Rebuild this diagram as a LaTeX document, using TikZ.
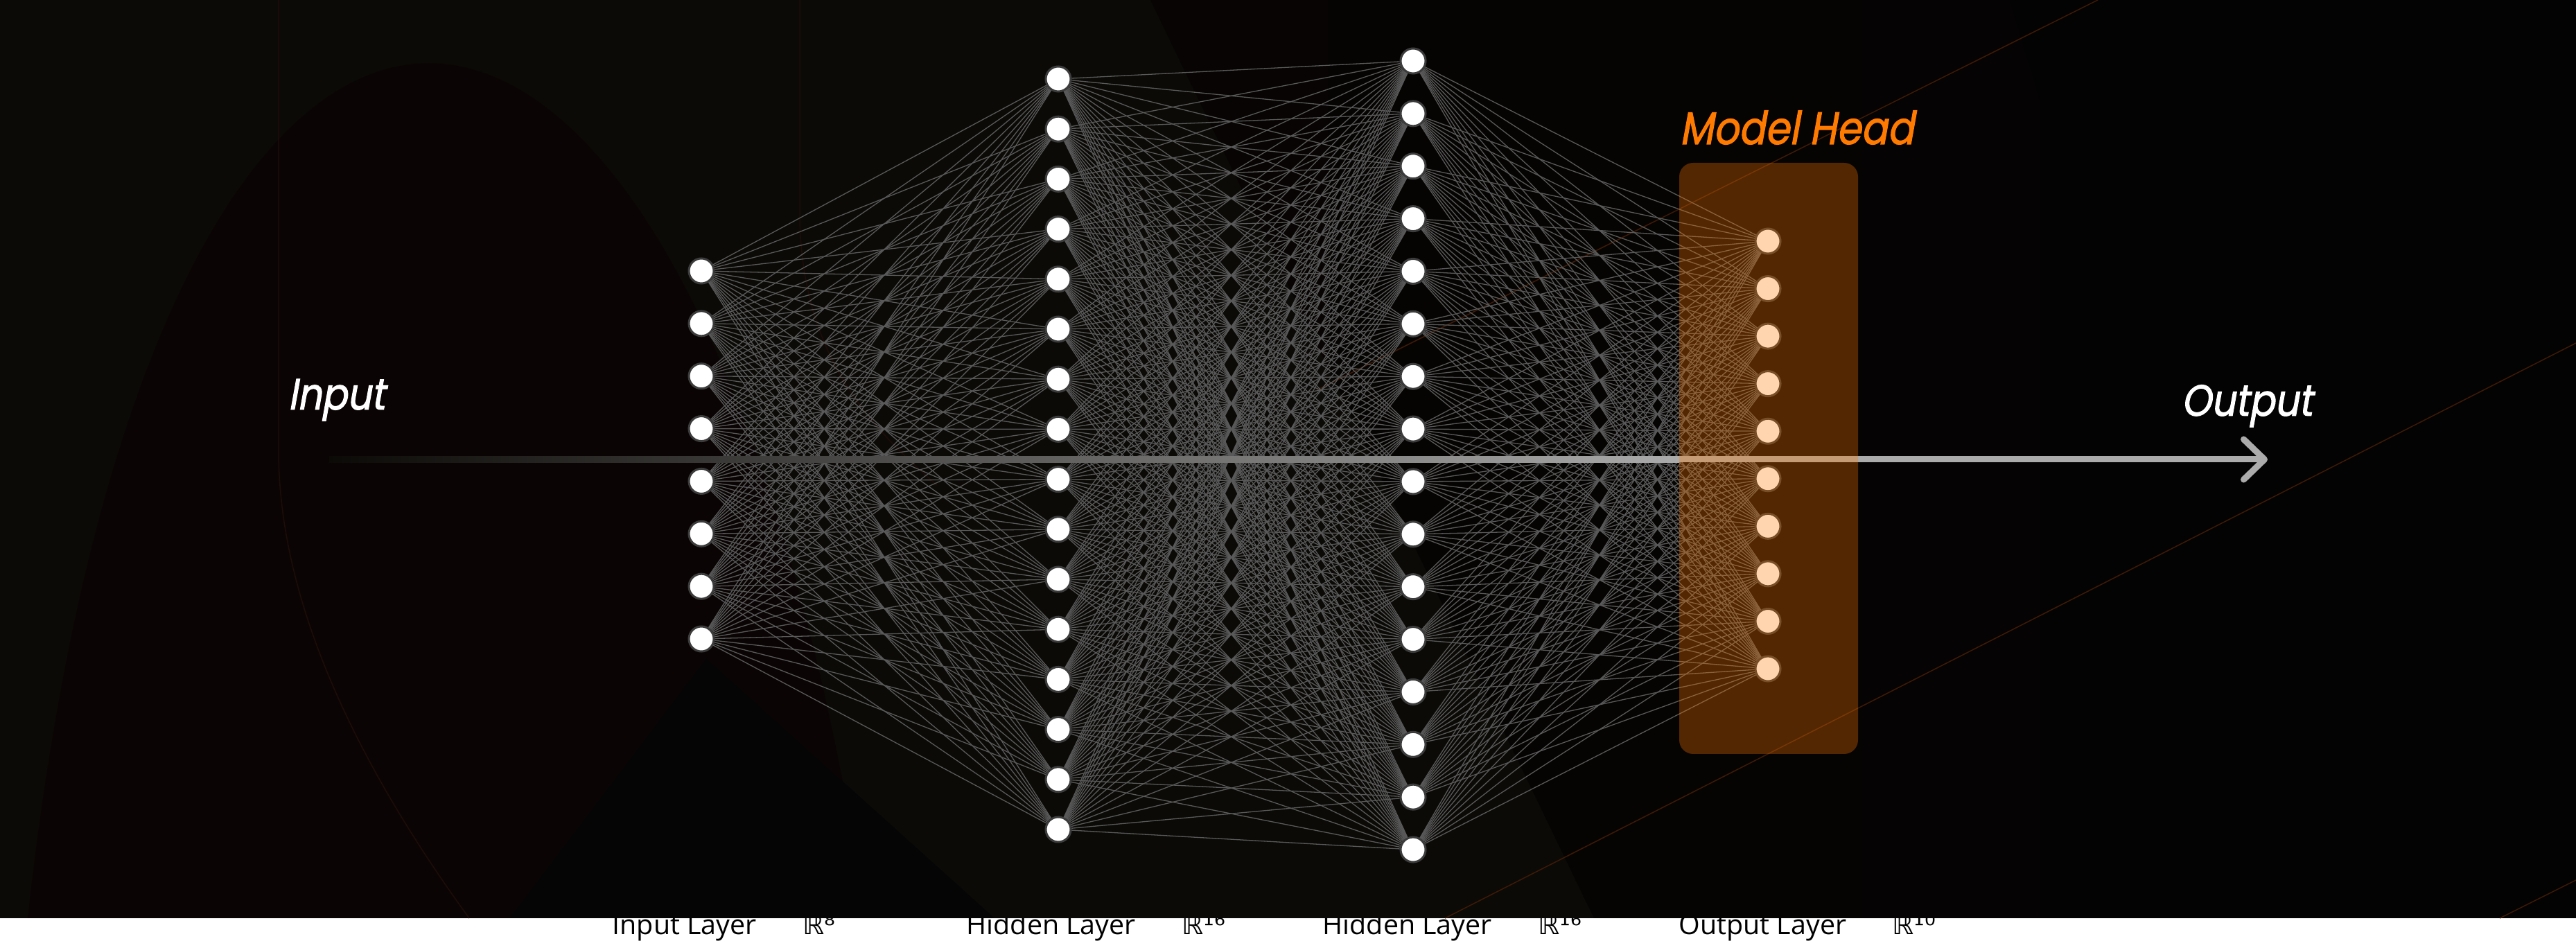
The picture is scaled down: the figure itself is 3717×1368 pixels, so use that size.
\documentclass[tikz,border=0pt]{standalone}
\usepackage{fontspec}
\setmainfont{Open Sans}
\newfontfamily\headfont[FakeSlant=0.18,FakeStretch=0.86,FakeBold=1.6]{Poppins}
\newfontfamily\dimfont{DejaVu Sans}
\usetikzlibrary{positioning,arrows.meta}

\definecolor{bgA}{HTML}{0B0A07}
\definecolor{bgB}{HTML}{070403}
\definecolor{bgC}{HTML}{030303}
\definecolor{bgArch}{HTML}{0A0504}
\definecolor{bgWedge}{HTML}{050505}
\definecolor{rimline}{HTML}{1E0C06}
\definecolor{streak}{HTML}{3E1A06}
\definecolor{edgegray}{HTML}{595959}
\definecolor{ringgray}{HTML}{3C3C3C}
\definecolor{arrowgray}{HTML}{ABABAB}
\definecolor{headorange}{HTML}{FF7800}
\definecolor{headtext}{HTML}{FF7A00}

\begin{document}
\begin{tikzpicture}[x=0.01cm, y=-0.01cm,
	neuron/.style={circle, fill=white, draw=ringgray, line width=0.03cm, minimum size=0.36cm, inner sep=0pt},
	conn/.style={edgegray, line width=0.013cm},
	lbl/.style={font=\fontsize{11.2}{13}\selectfont, text=black, inner sep=0pt},
	dimlbl/.style={font=\dimfont\fontsize{11.2}{13}\selectfont, text=black, inner sep=0pt},
	flowtxt/.style={font=\headfont\fontsize{18}{20}\selectfont, text=white, inner sep=0pt, anchor=base west},
	headbox/.style={fill=headorange, fill opacity=0.31, rounded corners=0.2cm},
	flowline/.style={arrowgray, line width=0.09cm, -{Straight Barb[round, length=0.3cm, width=0.58cm]}}
]
\useasboundingbox (0,0) rectangle (3717,1368);

% layer captions (partly hidden under the dark panel)
\node[lbl, anchor=base west] (lbl-in) at (883,1349) {Input Layer};
\node[dimlbl, base right=0.65cm of lbl-in] (dim-in) {ℝ⁸};
\node[lbl, anchor=base west] (lbl-hA) at (1394,1349) {Hidden Layer};
\node[dimlbl, base right=0.65cm of lbl-hA] (dim-hA) {ℝ¹⁶};
\node[lbl, anchor=base west] (lbl-hB) at (1908,1349) {Hidden Layer};
\node[dimlbl, base right=0.65cm of lbl-hB] (dim-hB) {ℝ¹⁶};
\node[lbl, anchor=base west] (lbl-out) at (2422,1349) {Output Layer};
\node[dimlbl, base right=0.65cm of lbl-out] (dim-out) {ℝ¹⁰};

% dark panel
\fill[bgA] (0,0) rectangle (3717,1325);
\shade[left color=bgB, right color=bgC] (1660,0) -- (3717,0) -- (3717,1325) -- (2300,1325) -- cycle;
\fill[bgC] (2900,0) -- (3717,0) -- (3717,1325) -- (3300,1325) -- cycle;
\fill[bgArch] (40,1325) .. controls (220,-320) and (1000,-320) .. (1250,1325) -- cycle;
\fill[bgWedge] (735,1325) -- (1019,950) -- (1435,1325) -- cycle;
\draw[rimline, line width=0.015cm] (402,0) -- (402,650) .. controls (402,900) and (550,1150) .. (677,1325);
\draw[rimline, line width=0.015cm] (1154,0) -- (1154,320) .. controls (1160,520) and (1260,620) .. (1352,700);
\draw[streak, line width=0.015cm] (3027,0) -- (1900,563);
\draw[streak, line width=0.015cm] (3717,495) -- (2085,1325);
\draw[streak, line width=0.015cm] (3717,1270) -- (3607,1325);

% neurons
\foreach \i in {1,...,8}
	\node[neuron] (in-\i) at (1012,{391+(\i-1)*75.86}) {};
\foreach \i in {1,...,16}
	\node[neuron] (hA-\i) at (1527,{114+(\i-1)*72.2}) {};
\foreach \i in {1,...,16}
	\node[neuron] (hB-\i) at (2039,{88+(\i-1)*75.87}) {};
\foreach \i in {1,...,10}
	\node[neuron] (out-\i) at (2551,{348+(\i-1)*68.56}) {};

% weights
\foreach \a in {1,...,8}
	\foreach \b in {1,...,16}
		\draw[conn] (in-\a) -- (hA-\b);
\foreach \a in {1,...,16}
	\foreach \b in {1,...,16}
		\draw[conn] (hA-\a) -- (hB-\b);
\foreach \a in {1,...,16}
	\foreach \b in {1,...,10}
		\draw[conn] (hB-\a) -- (out-\b);

% data flow
\coordinate (flow-in) at (475,663);
\coordinate (flow-mid) at (2423,663);
\coordinate (flow-out) at (3272,663);
\shade[left color=bgA, right color=arrowgray] ([yshift=-0.045cm]flow-in) rectangle ([yshift=0.045cm]flow-mid);
\draw[flowline] (flow-mid) -- (flow-out);

% model head
\fill[headbox] (2423,235) rectangle (2681,1088);
\node[flowtxt, text=headtext, font=\headfont\fontsize{18.7}{20}\selectfont] (head) at (2423,208) {Model Head};
\node[flowtxt] (input) at (415,591) {Input};
\node[flowtxt] (output) at (3147,600) {Output};
\end{tikzpicture}
\end{document}
